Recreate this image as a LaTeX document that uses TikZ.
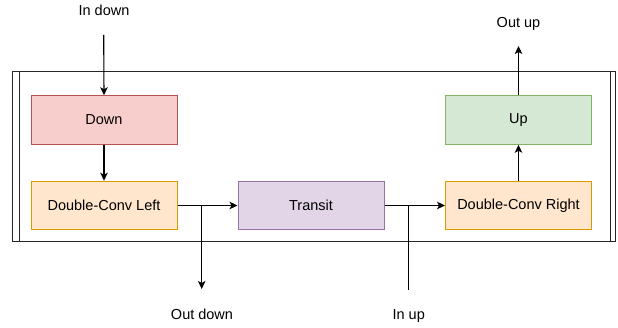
\documentclass[tikz,border=0pt]{standalone}
\usepackage{fontspec}
\setmainfont{Liberation Sans}
\usetikzlibrary{arrows.meta}
\definecolor{redF}{HTML}{F8CECC}\definecolor{redS}{HTML}{B85450}
\definecolor{orF}{HTML}{FFE6CC}\definecolor{orS}{HTML}{D79B00}
\definecolor{puF}{HTML}{E1D5E7}\definecolor{puS}{HTML}{9673A6}
\definecolor{grF}{HTML}{D5E8D4}\definecolor{grS}{HTML}{82B366}
\tikzset{
  blk/.style={draw, line width=1pt, minimum width=146pt, minimum height=48.5pt, inner sep=0pt, font=\fontsize{14.5}{17}\selectfont},
  lbl/.style={inner sep=0pt, text height=10.5pt, text depth=3pt, font=\fontsize{14.5}{17}\selectfont},
  conn/.style={line width=1.1pt, -{Stealth[length=8pt,width=7.5pt,inset=2pt]}},
  plain/.style={line width=1.1pt},
  frame/.style={line width=1pt, draw=black!85}
}
\begin{document}
\begin{tikzpicture}[x=1pt,y=-1pt]
\useasboundingbox (0,0) rectangle (618,328);
% outer frame
\draw[frame] (12,72) rectangle (615,242);
\draw[frame] (19,72) -- (19,242);
\draw[frame] (610,72) -- (610,242);
% blocks
\node[blk, fill=redF, draw=redS] (down) at (104,120) {Down};
\node[blk, fill=orF, draw=orS] (dcl) at (104,205.5) {Double-Conv Left};
\node[blk, fill=puF, draw=puS] (transit) at (311,205.5) {Transit};
\node[blk, fill=orF, draw=orS] (dcr) at (518.5,205.5) {Double-Conv Right};
\node[blk, fill=grF, draw=grS] (up) at (518.5,120) {Up};
% labels
\node[lbl] (indown) at (104,11.5) {In down};
\node[lbl] (outup) at (518.5,23.5) {Out up};
\node[lbl] (outdown) at (202,316) {Out down};
\node[lbl] (inup) at (408.7,316) {In up};
% coordinates
\coordinate (idstart) at (103.7,35);
\coordinate (ouend) at (518.5,46);
\coordinate (bd) at (201.7,205.5);
\coordinate (odend) at (201.7,289);
\coordinate (bu) at (408.7,205.5);
\coordinate (iustart) at (408.7,290);
% connectors
\draw[conn] (idstart) -- (down.north);
\draw[conn] (down.south) -- (dcl.north);
\draw[conn] (dcl.east) -- (transit.west);
\draw[conn] (bd) -- (odend);
\draw[conn] (transit.east) -- (dcr.west);
\draw[plain] (iustart) -- (bu);
\draw[conn] (dcr.north) -- (up.south);
\draw[conn] (up.north) -- (ouend);
\end{tikzpicture}
\end{document}
